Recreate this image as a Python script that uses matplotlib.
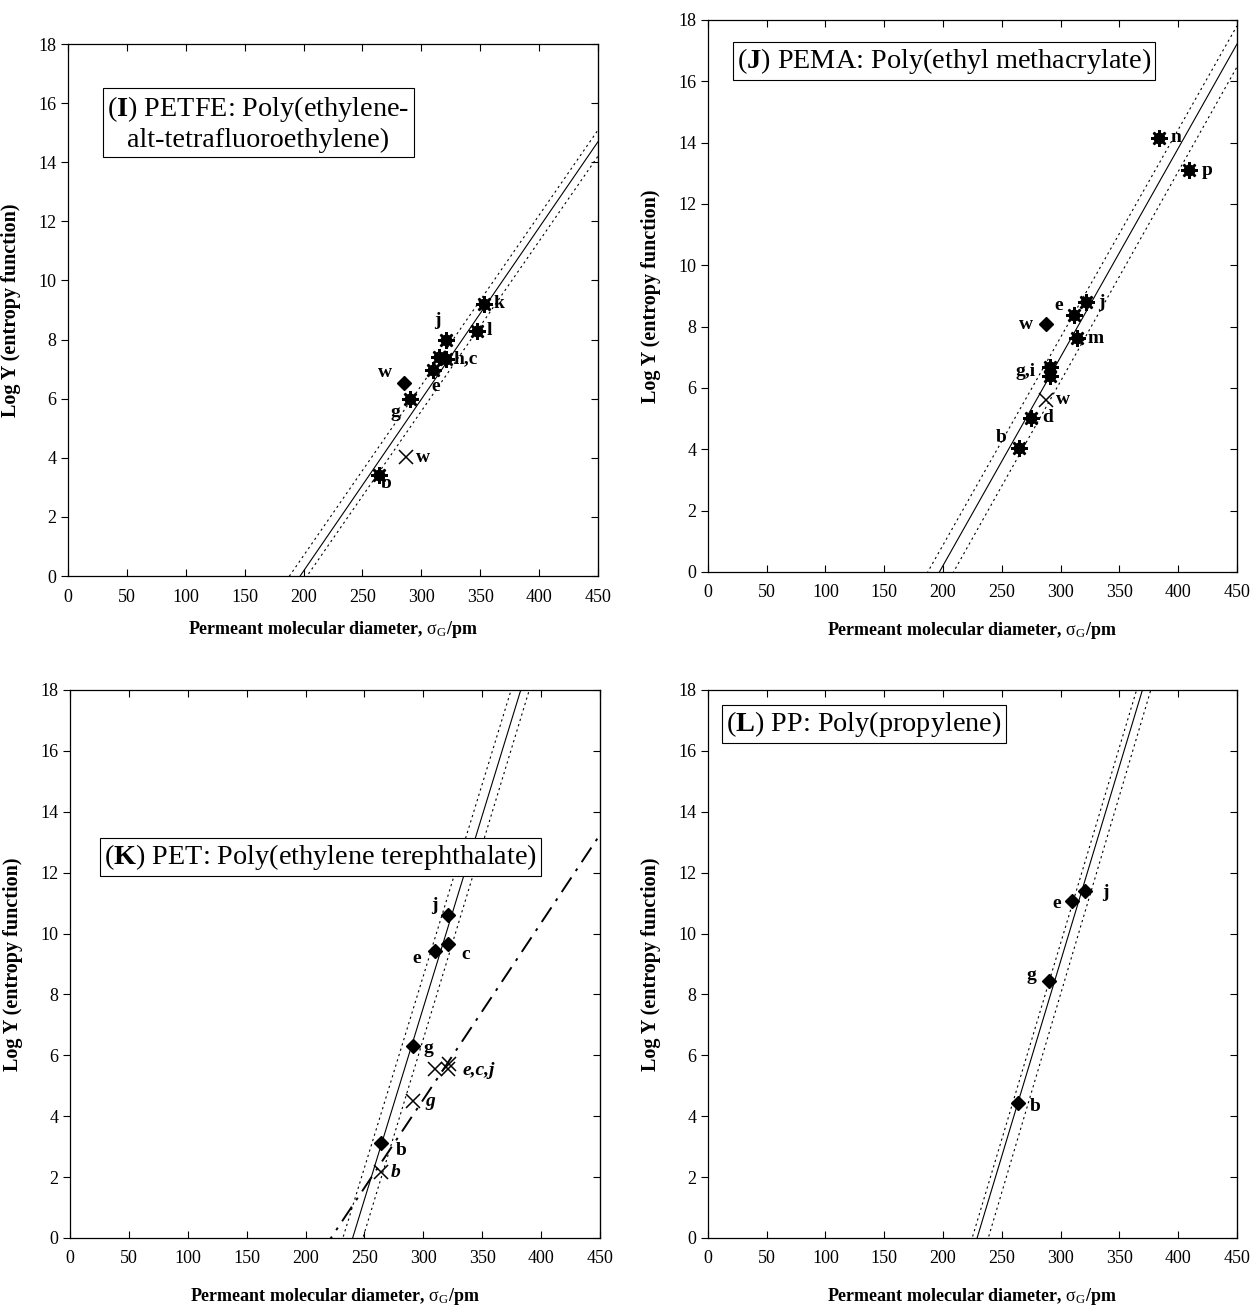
import numpy as np
import matplotlib
matplotlib.use("Agg")
import matplotlib.pyplot as plt

plt.rcParams["font.family"] = ["Liberation Serif", "DejaVu Serif"]
plt.rcParams["mathtext.fontset"] = "custom"
plt.rcParams["mathtext.rm"] = "Liberation Serif"
plt.rcParams["mathtext.it"] = "Liberation Serif:italic"
plt.rcParams["mathtext.bf"] = "Liberation Serif:bold"

# ---- panel I : PETFE ----
I_star_x = [264, 290, 310, 315, 321, 321, 347, 353]
I_star_y = [3.42, 6.00, 6.97, 7.42, 7.34, 7.98, 8.29, 9.22]
I_star_lab = ["b", "g", "e", "", "h,c", "j", "l", "k"]
I_diam_x = [285]
I_diam_y = [6.52]
I_diam_lab = ["w"]
I_cross_x = [287]
I_cross_y = [4.02]
I_cross_lab = ["w"]
I_fit = (0.0581, -11.45)     # slope, intercept
I_band_hi = (0.0576, -10.83)
I_band_lo = (0.0575, -11.67)

# ---- panel J : PEMA ----
J_star_x = [265, 275, 291, 291, 311, 322, 314, 384, 409]
J_star_y = [4.04, 5.02, 6.68, 6.40, 8.38, 8.80, 7.62, 14.15, 13.10]
J_star_lab = ["b", "d", "g,i", "", "e", "j", "m", "n", "p"]
J_diam_x = [288]
J_diam_y = [8.07]
J_diam_lab = ["w"]
J_cross_x = [288]
J_cross_y = [5.61]
J_cross_lab = ["w"]
J_fit = (0.0680, -13.39)
J_band_hi = (0.0677, -12.66)
J_band_lo = (0.0683, -14.27)

# ---- panel K : PET ----
K_diam_x = [264, 291, 310, 321, 321]
K_diam_y = [3.11, 6.29, 9.42, 9.64, 10.60]
K_diam_lab = ["b", "g", "e", "c", "j"]
K_cross_x = [264, 291, 310, 321, 322]
K_cross_y = [2.16, 4.50, 5.54, 5.55, 5.70]
K_cross_lab = ["b", "g", "", "e,c,j", ""]
K_fit = (0.1261, -30.26)
K_band_hi = (0.1260, -29.19)
K_band_lo = (0.1274, -31.68)
K_fit2 = (0.0580, -12.85)

# ---- panel L : PP ----
L_diam_x = [264, 290, 310, 321]
L_diam_y = [4.42, 8.44, 11.07, 11.40]
L_diam_lab = ["b", "g", "e", "j"]
L_fit = (0.1280, -29.31)
L_band_hi = (0.1287, -28.93)
L_band_lo = (0.1302, -31.05)

titles = [
    "($\\mathbf{I}$) PETFE: Poly(ethylene-\nalt-tetrafluoroethylene)",
    "($\\mathbf{J}$) PEMA: Poly(ethyl methacrylate)",
    "($\\mathbf{K}$) PET: Poly(ethylene terephthalate)",
    "($\\mathbf{L}$) PP: Poly(propylene)",
]

# label offsets in pixels (label centre relative to point)
I_star_off = [(7, -9), (-14, -14), (3, -16), (0, 0), (20, 0), (-9, 20), (13, 0), (15, 0)]
I_diam_off = [(-19, 11)]
I_cross_off = [(17, 0)]
J_star_off = [(-18, 11), (16, 0), (-24, -4), (0, 0), (-15, 9), (15, 0), (19, 0), (17, 0), (18, 0)]
J_diam_off = [(-20, 0)]
J_cross_off = [(17, 0)]
K_diam_off = [(20, -7), (16, -2), (-18, -7), (18, -10), (-14, 10)]
K_cross_off = [(15, 0), (17, -1), (0, 0), (31, -2), (0, 0)]
L_diam_off = [(17, -3), (-17, 6), (-16, -3), (20, -2)]

fig = plt.figure(figsize=(12.55, 13.1), dpi=100)
axes = [
    fig.add_axes([0.0542, 0.5603, 0.4223, 0.4061]),
    fig.add_axes([0.5641, 0.5634, 0.4215, 0.4214]),
    fig.add_axes([0.0558, 0.0550, 0.4223, 0.4183]),
    fig.add_axes([0.5641, 0.0550, 0.4215, 0.4183]),
]
title_pos = [(0.074, 0.906), (0.055, 0.953), (0.064, 0.723), (0.034, 0.965)]
xlabel_pad = [10, 13, 13, 13]

xx = np.linspace(0, 450, 500)


def draw_line(ax, coef, **kw):
    ax.plot(xx, coef[0] * xx + coef[1], color="black", **kw)


def label(ax, xs, ys, labs, offs, style="normal"):
    for x, y, t, o in zip(xs, ys, labs, offs):
        if t:
            ax.annotate(t, (x, y), xytext=o, textcoords="offset pixels",
                        ha="center", va="center", fontsize=14,
                        fontweight="bold", fontstyle=style)


def stars(ax, xs, ys, labs, offs):
    ax.plot(xs, ys, "o", ms=7.5, color="black", zorder=5)
    ax.plot(xs, ys, marker=(8, 2, 0), ms=12, mew=1.8, ls="none", color="black", zorder=5)
    label(ax, xs, ys, labs, offs)


def diamonds(ax, xs, ys, labs, offs):
    ax.plot(xs, ys, "D", ms=7.5, color="black", zorder=5)
    label(ax, xs, ys, labs, offs)


def crosses(ax, xs, ys, labs, offs, style="normal"):
    ax.plot(xs, ys, "x", ms=10, mew=1.1, color="black", zorder=5)
    label(ax, xs, ys, labs, offs, style)


fits = [
    (I_fit, I_band_hi, I_band_lo),
    (J_fit, J_band_hi, J_band_lo),
    (K_fit, K_band_hi, K_band_lo),
    (L_fit, L_band_hi, L_band_lo),
]

for i, ax in enumerate(axes):
    fit, hi, lo = fits[i]
    draw_line(ax, fit, lw=0.8)
    draw_line(ax, hi, lw=0.8, ls=(0, (2, 3)))
    draw_line(ax, lo, lw=0.8, ls=(0, (2, 3)))
    ax.set_xlim(0, 450)
    ax.set_ylim(0, 18)
    ax.set_xticks(np.arange(0, 451, 50))
    ax.set_yticks(np.arange(0, 19, 2))
    ax.tick_params(axis="x", direction="in", top=True, length=5, labelsize=13, pad=9)
    ax.tick_params(axis="y", direction="out", length=5, labelsize=13)
    sec = ax.secondary_yaxis("right")
    sec.set_yticks(np.arange(0, 19, 2))
    sec.tick_params(direction="in", length=5, labelright=False)
    for s in ax.spines.values():
        s.set_linewidth(0.9)
    ax.set_xlabel(r"Permeant molecular diameter, $\mathrm{\sigma_G}$/pm",
                  fontsize=13, fontweight="bold", labelpad=xlabel_pad[i])
    ax.set_ylabel("Log Y (entropy function)", fontsize=14.5, fontweight="bold", labelpad=12)
    ax.text(title_pos[i][0], title_pos[i][1], titles[i], transform=ax.transAxes,
            ha="left", va="top", fontsize=20.3, multialignment="center",
            bbox=dict(boxstyle="square,pad=0.15", fc="white", ec="black", lw=0.8))

draw_line(axes[2], K_fit2, lw=1.4, ls=(0, (9, 4, 1.5, 4)))

stars(axes[0], I_star_x, I_star_y, I_star_lab, I_star_off)
diamonds(axes[0], I_diam_x, I_diam_y, I_diam_lab, I_diam_off)
crosses(axes[0], I_cross_x, I_cross_y, I_cross_lab, I_cross_off)

stars(axes[1], J_star_x, J_star_y, J_star_lab, J_star_off)
diamonds(axes[1], J_diam_x, J_diam_y, J_diam_lab, J_diam_off)
crosses(axes[1], J_cross_x, J_cross_y, J_cross_lab, J_cross_off)

diamonds(axes[2], K_diam_x, K_diam_y, K_diam_lab, K_diam_off)
crosses(axes[2], K_cross_x, K_cross_y, K_cross_lab, K_cross_off, style="italic")

diamonds(axes[3], L_diam_x, L_diam_y, L_diam_lab, L_diam_off)

fig.savefig("out.png", dpi=100)
